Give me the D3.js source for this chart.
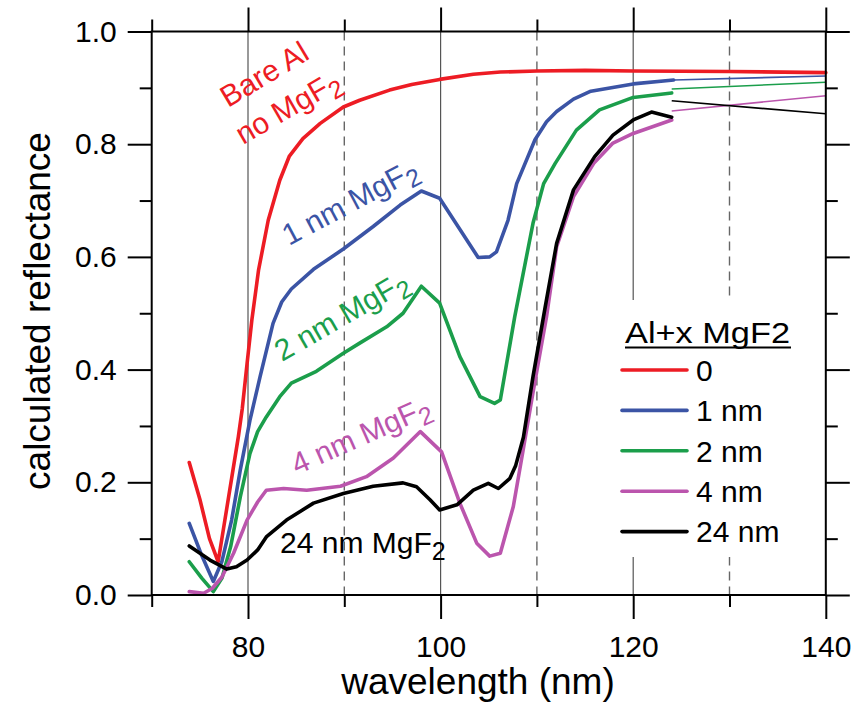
<!DOCTYPE html>
<html>
<head>
<meta charset="utf-8">
<script src="https://cdn.jsdelivr.net/npm/d3@7/dist/d3.min.js"></script>
<style>
  body { margin: 0; background: #fff; }
  svg { display: block; }
  text { font-family: "Liberation Sans", Arial, Helvetica, sans-serif; }
</style>
</head>
<body>
<svg id="chart" width="862" height="705"></svg>
<script>
// Axis ticks and reference grid (wavelength in nm, reflectance 0..1)
const xMajorTicks = [80, 100, 120, 140];
const xMinorTicks = [70, 90, 110, 130];
const yMajorTicks = [0, 0.2, 0.4, 0.6, 0.8, 1.0];
const yMinorTicks = [0.1, 0.3, 0.5, 0.7, 0.9];
const gridSolid = [80, 100, 120];
const gridDashed = [90, 110, 130];

// Legend entries (MgF2 thickness on Al)
const legendTitle = "Al+x MgF2";
const legendLabels = ["0", "1 nm", "2 nm", "4 nm", "24 nm"];

// Calculated reflectance curves: [wavelength nm, reflectance]
const bareAl = [[73.9,0.235],[75.0,0.17],[76.0,0.10],[76.9,0.059],[77.6,0.133],[78.3,0.207],[79.0,0.281],[79.4,0.33],
  [79.9,0.41],[80.4,0.488],[81.1,0.577],[82.1,0.665],[83.3,0.736],[84.3,0.779],[85.7,0.810],[87.5,0.837],
  [89.9,0.866],[91.6,0.878],[94.7,0.896],[97.0,0.906],[99.9,0.915],[103.4,0.924],[106.2,0.928],[110,0.930],
  [115,0.931],[120,0.930],[130,0.929],[140,0.927]];

const mgf1 = [[73.9,0.127],[75.2,0.07],[76.4,0.024],[77.3,0.06],[78.3,0.133],[79.2,0.222],[80.2,0.31],[81.25,0.387],
  [82.6,0.482],[83.5,0.52],[84.5,0.543],[86.8,0.578],[89.9,0.614],[93.0,0.654],[95.8,0.692],[98.0,0.717],
  [99.9,0.704],[103.9,0.599],[105.1,0.600],[105.8,0.609],[107.0,0.665],[107.9,0.73],[109.8,0.808],
  [111.0,0.84],[112.05,0.858],[113.8,0.880],[115.6,0.894],[120,0.907],[124.2,0.914]];
const mgf1Tail = [[124.2,0.914],[140,0.921]];

const mgf2 = [[73.9,0.059],[75.2,0.03],[76.4,0.006],[77.3,0.03],[78.2,0.086],[79.2,0.174],[80.2,0.251],[81.0,0.29],
  [81.9,0.316],[83.3,0.352],[84.5,0.376],[87.1,0.397],[89.9,0.429],[91.6,0.447],[94.4,0.476],[96.1,0.50],
  [98.0,0.548],[99.9,0.518],[102.0,0.423],[104.1,0.352],[105.6,0.340],[106.2,0.346],[107.7,0.494],
  [109.6,0.66],[110.7,0.73],[111.9,0.766],[114.1,0.825],[116.5,0.861],[120,0.883],[124,0.891]];
const mgf2Tail = [[124,0.898],[140,0.910]];

const mgf4 = [[73.9,0.006],[75.4,0.003],[76.3,0.012],[77.3,0.032],[78.5,0.074],[79.9,0.133],[81.0,0.165],
  [81.9,0.186],[83.7,0.189],[86.1,0.186],[89.6,0.193],[92.3,0.21],[95.1,0.243],[97.9,0.29],[100.1,0.254],
  [102.0,0.163],[103.75,0.092],[105.1,0.069],[106.2,0.074],[107.55,0.157],[108.6,0.26],[109.6,0.36],
  [111.0,0.494],[112.05,0.618],[113.8,0.707],[115.9,0.766],[117.9,0.802],[120,0.819],[124,0.843]];
const mgf4Tail = [[124,0.859],[140,0.886]];

const mgf24 = [[73.9,0.087],[76.05,0.062],[77.8,0.046],[78.8,0.05],[79.9,0.062],[81.0,0.08],[81.9,0.103],
  [84.0,0.133],[86.8,0.163],[89.9,0.18],[93.0,0.193],[96.1,0.199],[97.5,0.192],[98.9,0.169],[99.9,0.151],
  [101.7,0.16],[103.4,0.186],[104.95,0.198],[106.0,0.189],[107.2,0.207],[107.8,0.23],[108.6,0.28],
  [109.6,0.388],[110.85,0.51],[112.05,0.624],[113.8,0.719],[116.0,0.778],[117.9,0.816],[120,0.843],
  [121.9,0.857],[124,0.848]];
const mgf24Tail = [[124,0.877],[140,0.854]];

const curves = [bareAl, mgf1, mgf2, mgf4, mgf24];
const tails = [null, mgf1Tail, mgf2Tail, mgf4Tail, mgf24Tail];
const colors = ["#ed1c24", "#3b54a5", "#1b9e4b", "#bb55ad", "#000000"];

const svg = d3.select("#chart");
const plotLeft = 151.7, plotRight = 825.8, plotTop = 31.5, plotBottom = 595;
const x = d3.scaleLinear().domain([70, 140]).range([plotLeft, plotRight]);
const y = d3.scaleLinear().domain([0, 1]).range([plotBottom, plotTop]);

// grid
const grid = svg.append("g");
grid.selectAll("line.solid").data(gridSolid).join("line").attr("class", "solid")
  .attr("x1", d => x(d)).attr("x2", d => x(d)).attr("y1", plotTop).attr("y2", plotBottom)
  .attr("stroke", "#555").attr("stroke-width", 1.2);
grid.selectAll("line.dash").data(gridDashed).join("line").attr("class", "dash")
  .attr("x1", d => x(d)).attr("x2", d => x(d)).attr("y1", plotTop).attr("y2", plotBottom)
  .attr("stroke", "#666").attr("stroke-width", 1.4).attr("stroke-dasharray", "9,6");

// legend background hides the grid behind it
svg.append("rect").attr("x", 602).attr("y", 300).attr("width", 203).attr("height", 257).attr("fill", "#fff");

// axes: major/minor outward ticks on all four sides
function styleAxis(g) {
  g.select(".domain").remove();
  g.selectAll(".tick line").attr("stroke", "#000").attr("stroke-width", 2);
  g.attr("font-size", 30).attr("font-family", "'Liberation Sans', Arial, sans-serif");
  g.selectAll(".tick text").attr("fill", "#000");
}
svg.append("g").attr("transform", `translate(0,${plotBottom})`)
  .call(d3.axisBottom(x).tickValues(xMajorTicks).tickSize(24).tickSizeOuter(0).tickFormat(d3.format("d")))
  .call(styleAxis)
  .call(g => g.selectAll(".tick text").attr("y", 62).attr("dy", 0));
svg.append("g").attr("transform", `translate(0,${plotBottom})`)
  .call(d3.axisBottom(x).tickValues(xMinorTicks).tickSize(12).tickSizeOuter(0).tickFormat(""))
  .call(styleAxis);
svg.append("g").attr("transform", `translate(0,${plotTop})`)
  .call(d3.axisTop(x).tickValues(xMajorTicks).tickSize(24).tickSizeOuter(0).tickFormat(""))
  .call(styleAxis);
svg.append("g").attr("transform", `translate(0,${plotTop})`)
  .call(d3.axisTop(x).tickValues(xMinorTicks).tickSize(12).tickSizeOuter(0).tickFormat(""))
  .call(styleAxis);
svg.append("g").attr("transform", `translate(${plotLeft},0)`)
  .call(d3.axisLeft(y).tickValues(yMajorTicks).tickSize(24).tickSizeOuter(0).tickPadding(11).tickFormat(d3.format(".1f")))
  .call(styleAxis);
svg.append("g").attr("transform", `translate(${plotLeft},0)`)
  .call(d3.axisLeft(y).tickValues(yMinorTicks).tickSize(12).tickSizeOuter(0).tickFormat(""))
  .call(styleAxis);
svg.append("g").attr("transform", `translate(${plotRight},0)`)
  .call(d3.axisRight(y).tickValues(yMajorTicks).tickSize(24).tickSizeOuter(0).tickFormat(""))
  .call(styleAxis);
svg.append("g").attr("transform", `translate(${plotRight},0)`)
  .call(d3.axisRight(y).tickValues(yMinorTicks).tickSize(12).tickSizeOuter(0).tickFormat(""))
  .call(styleAxis);

// curves
const line = d3.line().x(d => x(d[0])).y(d => y(d[1]));
const plot = svg.append("g");
tails.forEach((t, i) => {
  if (!t) return;
  plot.append("path").datum(t).attr("d", line).attr("fill", "none")
    .attr("stroke", colors[i]).attr("stroke-width", 1.6);
});
curves.forEach((c, i) => {
  plot.append("path").datum(c).attr("d", line).attr("fill", "none")
    .attr("stroke", colors[i]).attr("stroke-width", 3.6)
    .attr("stroke-linejoin", "round").attr("stroke-linecap", "round");
});

// frame
svg.append("rect").attr("x", plotLeft).attr("y", plotTop)
  .attr("width", plotRight - plotLeft).attr("height", plotBottom - plotTop)
  .attr("fill", "none").attr("stroke", "#000").attr("stroke-width", 2);

// curve labels, with subscripted 2 in MgF2
function curveLabel(px, py, angle, prefix, color) {
  const t = svg.append("text").attr("x", px).attr("y", py).attr("font-size", 30).attr("fill", color)
    .attr("transform", `rotate(${angle},${px},${py})`);
  t.append("tspan").text(prefix + "MgF");
  t.append("tspan").attr("font-size", 25).attr("dy", 7).text("2");
  return t;
}
svg.append("text").attr("x", 228).attr("y", 108).attr("font-size", 30).attr("fill", colors[0])
  .attr("transform", "rotate(-31,228,108)").text("Bare Al");
curveLabel(243, 145, -30, "no ", colors[0]);
curveLabel(289, 246, -28, "1 nm ", colors[1]);
curveLabel(282, 362, -30, "2 nm ", colors[2]);
curveLabel(297, 475, -24, "4 nm ", colors[3]);
curveLabel(280, 553, 0, "24 nm ", colors[4]);

// legend
const lg = svg.append("g");
lg.append("text").attr("x", 625).attr("y", 343).attr("font-size", 30).attr("fill", "#000")
  .attr("textLength", 165).attr("lengthAdjust", "spacingAndGlyphs").text(legendTitle);
lg.append("line").attr("x1", 625).attr("x2", 791).attr("y1", 347.5).attr("y2", 347.5)
  .attr("stroke", "#000").attr("stroke-width", 2);
const rows = lg.selectAll("g.row").data(legendLabels).join("g").attr("class", "row")
  .attr("transform", (d, i) => `translate(0,${370 + i * 40.4})`);
rows.append("line").attr("x1", 622).attr("x2", 687).attr("y1", 0).attr("y2", 0)
  .attr("stroke", (d, i) => colors[i]).attr("stroke-width", 3.6).attr("stroke-linecap", "round");
rows.append("text").attr("x", 696).attr("y", 0).attr("dy", "0.36em").attr("font-size", 30)
  .attr("fill", "#000").text(d => d);

// axis titles
svg.append("text").attr("x", 478).attr("y", 694).attr("text-anchor", "middle").attr("font-size", 37)
  .attr("fill", "#000").text("wavelength (nm)");
svg.append("text").attr("transform", "translate(50,311) rotate(-90)").attr("text-anchor", "middle")
  .attr("font-size", 37).attr("fill", "#000").text("calculated reflectance");
</script>
</body>
</html>
